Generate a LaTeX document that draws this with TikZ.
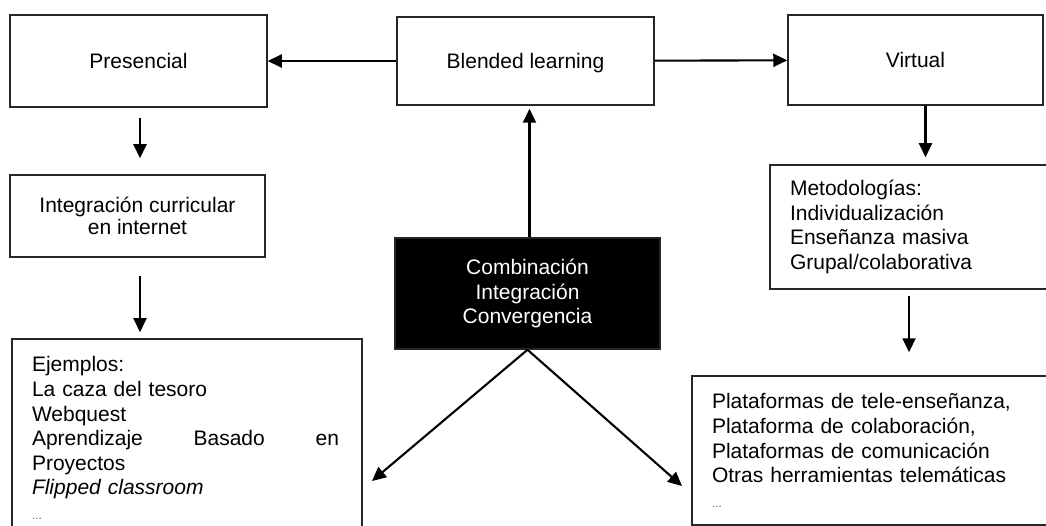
\documentclass[tikz,border=0pt]{standalone}
\usepackage{fontspec}
\setmainfont{Liberation Sans}
\usetikzlibrary{arrows.meta}
\tikzset{
	caja/.style={draw=black!85, line width=1.5pt, fill=white, inner sep=0pt, font=\fontsize{21}{24.6}\selectfont},
	lista/.style={caja, align=left, inner xsep=20pt},
	flecha/.style={line width=2.1pt, -{Triangle[length=14pt,width=13pt]}}
}

\begin{document}
\begin{tikzpicture}[x=1pt,y=-1pt]
			%%%%% START %%%%%
			\clip (0,0) rectangle (1046,526);
			
			\node[caja, minimum width=257pt, minimum height=92pt, text depth=-3pt] (pres) at (138.5,61) {Presencial};
			\node[caja, minimum width=257pt, minimum height=88pt, text depth=-5pt] (blend) at (525.5,61) {Blended learning};
			\node[caja, minimum width=255pt, minimum height=90pt, text depth=-2pt] (virt) at (915.5,60) {Virtual};
			
			\node[caja, minimum width=255pt, minimum height=82pt, align=center, font=\fontsize{21}{22}\selectfont] (integ) at (137.5,216) {Integración curricular\\en internet};
			\node[caja, fill=black, text=white, minimum width=265pt, minimum height=111pt, align=center] (combo) at (527.5,293.5) {Combinación\\Integración\\Convergencia};
			
			\node[lista, text width=260pt, minimum height=124pt] (metod) at (920,227) {Metodologías:\\Individualización\\Enseñanza masiva\\Grupal/colaborativa};
			\node[lista, text width=310pt, minimum height=198pt] (ejem) at (187,438) {Ejemplos:\\La caza del tesoro\\Webquest\\\makebox[307pt][l]{Aprendizaje\hfill Basado\hfill en}\\Proyectos\\\textit{Flipped classroom}\\{\color{black!60}\fontsize{12}{12}\selectfont ...}};
			\node[lista, text width=340pt, minimum height=149pt] (plat) at (882,450.5) {Plataformas de tele-enseñanza,\\Plataforma de colaboración,\\Plataformas de comunicación\\Otras herramientas telemáticas\\{\color{black!60}\fontsize{12}{12}\selectfont ...}};
			
			\coordinate (ejemtip) at (372,481);
			\coordinate (plattip) at (682,486);
			
			\draw[flecha] (blend) -- (pres);
			\draw[flecha] (blend) -- (virt);
			\draw[flecha, shorten >=3pt] ([xshift=2pt]combo.north) -- ([xshift=2pt]combo.north |- blend.south);
			\draw[flecha, shorten <=10pt, shorten >=16pt] ([xshift=1.5pt]pres.south) -- ([xshift=1.5pt]pres.south |- integ.north);
			\draw[flecha, shorten <=18pt, shorten >=6pt] ([xshift=2.5pt]integ.south) -- ([xshift=2.5pt]integ.south |- ejem.north);
			\draw[flecha, shorten >=7pt] ([xshift=10pt]virt.south) -- ([xshift=10pt]virt.south |- metod.north);
			\draw[flecha, shorten <=6pt, shorten >=23pt] ([xshift=-11pt]metod.south) -- ([xshift=-11pt]metod.south |- plat.north);
			\draw[flecha] (combo.south) -- (ejemtip);
			\draw[flecha] (combo.south) -- (plattip);
			%%%%% END %%%%%
\end{tikzpicture}
\end{document}
